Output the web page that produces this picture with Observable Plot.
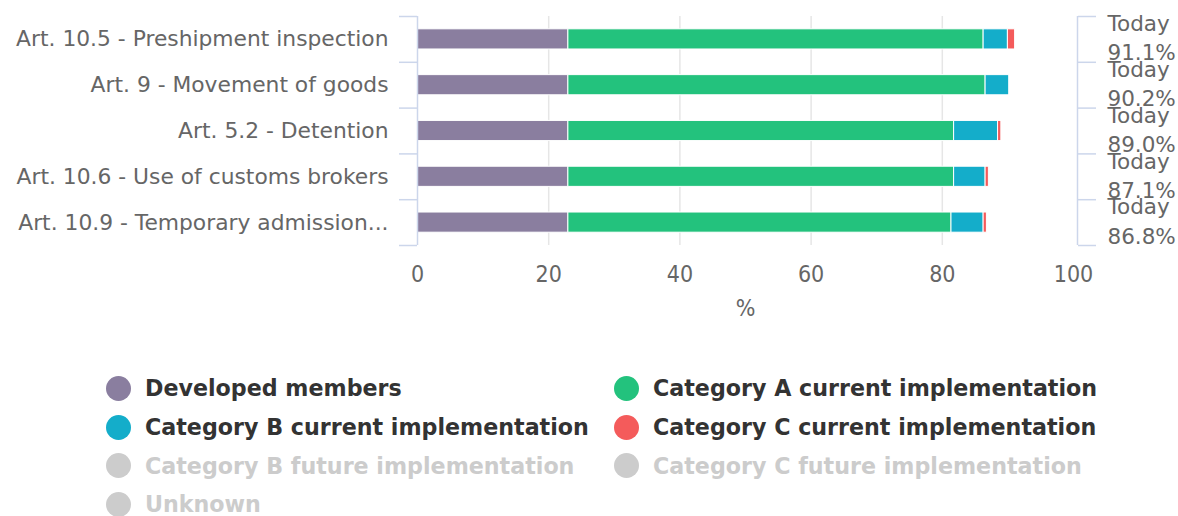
<!DOCTYPE html>
<html><head><meta charset="utf-8">
<script src="https://cdn.jsdelivr.net/npm/d3@7"></script>
<script src="https://cdn.jsdelivr.net/npm/@observablehq/plot@0.6"></script>
<style>
body{margin:0;background:#fff;}
#chart{position:relative;width:1178px;height:516px;overflow:hidden;}
#chart svg{display:block;}
.legend{position:absolute;left:106px;top:369px;display:grid;grid-template-columns:508px 508px;grid-auto-rows:38.7px;font-family:"DejaVu Sans";font-weight:bold;font-size:22.2px;}
.item{display:flex;align-items:center;white-space:nowrap;}
.dot{width:25px;height:25px;border-radius:50%;margin-right:14px;flex:none;}
</style></head><body><div id="chart"></div>
<script>
const categories = ["Art. 10.5 - Preshipment inspection","Art. 9 - Movement of goods","Art. 5.2 - Detention","Art. 10.6 - Use of customs brokers","Art. 10.9 - Temporary admission..."];
const seriesNames = ["Developed members","Category A current implementation","Category B current implementation","Category C current implementation"];
const developed = [23.0,23.0,23.0,23.0,23.0];
const catA = [63.3,63.6,58.8,58.8,58.4];
const catB = [3.7,3.6,6.7,4.8,4.9];
const catC = [1.1,0,0.5,0.5,0.5];
const totalLabels = ["Today\n91.1%","Today\n90.2%","Today\n89.0%","Today\n87.1%","Today\n86.8%"];
const xTicks = [0,20,40,60,80,100];
const seriesColors = ["#8a7e9f","#23c27d","#14adca","#f45b5b"];
const legendNames = ["Developed members","Category A current implementation","Category B current implementation","Category C current implementation","Category B future implementation","Category C future implementation","Unknown"];
const legendActive = [true,true,true,true,false,false,false];

const seriesValues = [developed, catA, catB, catC];
const rows = [];
categories.forEach((c, i) => {
  seriesValues.forEach((vals, s) => {
    if (vals[i] > 0) rows.push({i, cat: c, series: seriesNames[s], value: vals[i]});
  });
});
const idx = d3.range(categories.length);
const bounds = d3.range(categories.length + 1).map(k => k - 0.5);
const half = 0.22;
const axisColor = "#ccd6eb";
const labelFont = "DejaVu Sans";
const tickFont = "DejaVu Sans Condensed";

const chart = Plot.plot({
  width: 1178,
  height: 340,
  marginTop: 16,
  marginBottom: 95,
  marginLeft: 417,
  marginRight: 105,
  style: {color: "#666", background: "white"},
  x: {domain: [0, 100]},
  y: {domain: [-0.5, categories.length - 0.5], reverse: true},
  color: {domain: seriesNames, range: seriesColors},
  marks: [
    Plot.gridX(xTicks.slice(1, -1), {stroke: "#e6e6e6", strokeOpacity: 1, strokeWidth: 1.5}),
    Plot.rectX(rows, {x: "value", y1: d => d.i - half, y2: d => d.i + half, fill: "series", stroke: "white", strokeWidth: 1}),
    Plot.ruleX([0], {stroke: axisColor, strokeWidth: 1.5}),
    Plot.ruleX([100], {stroke: axisColor, strokeWidth: 1.5, dx: 4}),
    Plot.axisY(bounds, {anchor: "left", tickSize: 18, stroke: axisColor, strokeWidth: 1.5, tickFormat: () => "", label: null}),
    Plot.axisY(bounds, {anchor: "right", tickSize: 18, stroke: axisColor, strokeWidth: 1.5, dx: 4, tickFormat: () => "", label: null}),
    Plot.axisY(idx, {anchor: "left", tickSize: 0, tickPadding: 29, tickFormat: i => categories[i], fontSize: 21.8, fontFamily: labelFont, fill: "#666", label: null}),
    Plot.text(idx, {y: d => d, text: d => totalLabels[d], frameAnchor: "right", textAnchor: "start", dx: 34, dy: -3, lineHeight: 1.36, fontSize: 21.5, fontFamily: labelFont, fill: "#666"}),
    Plot.axisX(xTicks, {anchor: "bottom", tickSize: 0, tickPadding: 20, fontSize: 23, fontFamily: tickFont, fill: "#666", label: null}),
    Plot.text(["%"], {frameAnchor: "bottom", dy: 70, fontSize: 23, fontFamily: tickFont, fill: "#666"})
  ]
});
const root = document.getElementById("chart");
root.appendChild(chart);

const legend = document.createElement("div");
legend.className = "legend";
legendNames.forEach((name, k) => {
  const item = document.createElement("div");
  item.className = "item";
  const dot = document.createElement("span");
  dot.className = "dot";
  const si = seriesNames.indexOf(name);
  dot.style.background = legendActive[k] && si >= 0 ? seriesColors[si] : "#cccccc";
  const label = document.createElement("span");
  label.textContent = name;
  label.style.color = legendActive[k] ? "#333333" : "#cccccc";
  item.appendChild(dot);
  item.appendChild(label);
  legend.appendChild(item);
});
root.appendChild(legend);
</script></body></html>
